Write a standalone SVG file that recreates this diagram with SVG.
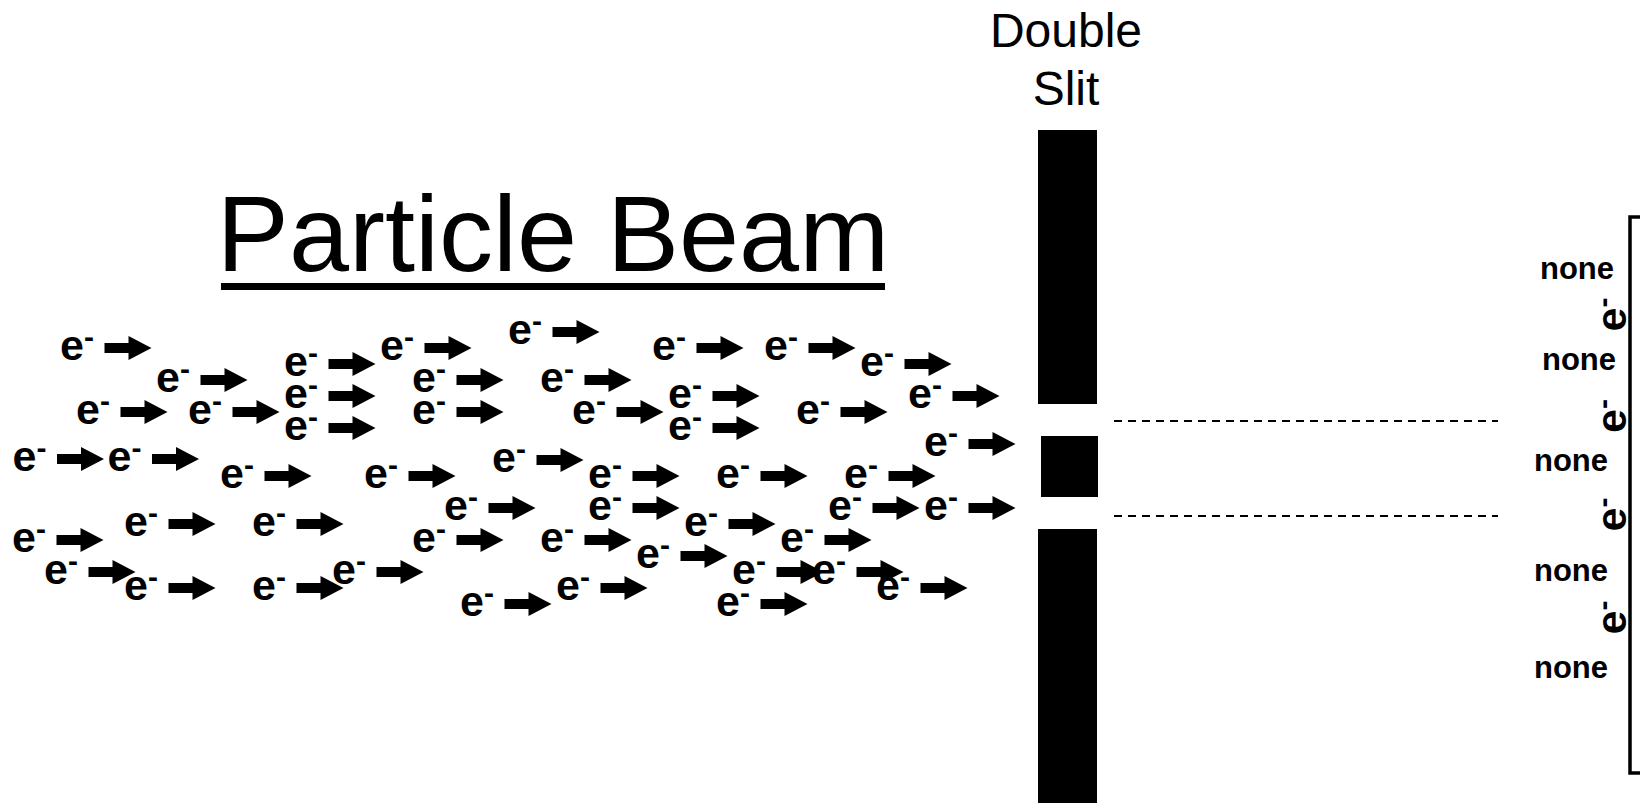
<svg xmlns="http://www.w3.org/2000/svg" xmlns:xlink="http://www.w3.org/1999/xlink" width="1640" height="803" viewBox="0 0 1640 803">
<style>
.e{font-family:"Liberation Sans",Arial,sans-serif;font-weight:bold;font-size:43px;fill:#000}
.sup{font-size:30px}
.none{font-family:"Liberation Sans",Arial,sans-serif;font-weight:bold;font-size:31px;fill:#000}
.lbl{font-family:"Liberation Sans",Arial,sans-serif;font-size:48px;fill:#000}
.title{font-family:"Liberation Sans",Arial,sans-serif;font-size:108px;fill:#000}
.dash{stroke:#000;stroke-width:2;stroke-dasharray:8 6;fill:none}
</style>
<defs>
<path id="arw" d="M43,-17 H67 V-24 L90,-12 L67,0 V-7 H43 Z" fill="#000"/>
</defs>
<rect width="1640" height="803" fill="#fff"/>

<g id="title">
<text class="title" x="553" y="271" text-anchor="middle">Particle Beam</text>
<rect x="221" y="283" width="664" height="7" fill="#000"/>
</g>

<g id="slit-label">
<text class="lbl" x="1066" y="47" text-anchor="middle">Double</text>
<text class="lbl" x="1066" y="104.5" text-anchor="middle">Slit</text>
</g>

<g id="double-slit">
<rect x="1038" y="130" width="59" height="274" fill="#000"/>
<rect x="1041" y="436" width="57" height="61" fill="#000"/>
<rect x="1038" y="529" width="59" height="274" fill="#000"/>
</g>

<g id="connectors">
<line class="dash" x1="1114" y1="421" x2="1498" y2="421"/>
<line class="dash" x1="1114" y1="516" x2="1498" y2="516"/>
</g>

<g id="screen">
<rect x="1630" y="217" width="40" height="556" fill="none" stroke="#000" stroke-width="3.5"/>
<text class="none" x="1540" y="279">none</text>
<text class="none" x="1542" y="370">none</text>
<text class="none" x="1534" y="471">none</text>
<text class="none" x="1534" y="581">none</text>
<text class="none" x="1534" y="678">none</text>
<g id="hit1" transform="translate(1626,330) rotate(-90)"><text class="e" x="-1.5" y="0">e<tspan class="sup" dy="-13">-</tspan></text></g>
<g id="hit2" transform="translate(1626,431.5) rotate(-90)"><text class="e" x="-1.5" y="0">e<tspan class="sup" dy="-13">-</tspan></text></g>
<g id="hit3" transform="translate(1626,530) rotate(-90)"><text class="e" x="-1.5" y="0">e<tspan class="sup" dy="-13">-</tspan></text></g>
<g id="hit4" transform="translate(1626,633) rotate(-90)"><text class="e" x="-1.5" y="0">e<tspan class="sup" dy="-13">-</tspan></text></g>
</g>

<g id="beam">
<g id="p01" transform="translate(61.5,360)"><text class="e" x="-1.5">e<tspan class="sup" dy="-13">-</tspan></text><use xlink:href="#arw"/></g>
<g id="p02" transform="translate(157.5,392)"><text class="e" x="-1.5">e<tspan class="sup" dy="-13">-</tspan></text><use xlink:href="#arw"/></g>
<g id="p03" transform="translate(77.5,424)"><text class="e" x="-1.5">e<tspan class="sup" dy="-13">-</tspan></text><use xlink:href="#arw"/></g>
<g id="p04" transform="translate(189.5,424)"><text class="e" x="-1.5">e<tspan class="sup" dy="-13">-</tspan></text><use xlink:href="#arw"/></g>
<g id="p05" transform="translate(285.5,376)"><text class="e" x="-1.5">e<tspan class="sup" dy="-13">-</tspan></text><use xlink:href="#arw"/></g>
<g id="p06" transform="translate(285.5,408)"><text class="e" x="-1.5">e<tspan class="sup" dy="-13">-</tspan></text><use xlink:href="#arw"/></g>
<g id="p07" transform="translate(285.5,440)"><text class="e" x="-1.5">e<tspan class="sup" dy="-13">-</tspan></text><use xlink:href="#arw"/></g>
<g id="p08" transform="translate(381.5,360)"><text class="e" x="-1.5">e<tspan class="sup" dy="-13">-</tspan></text><use xlink:href="#arw"/></g>
<g id="p09" transform="translate(413.5,392)"><text class="e" x="-1.5">e<tspan class="sup" dy="-13">-</tspan></text><use xlink:href="#arw"/></g>
<g id="p10" transform="translate(413.5,424)"><text class="e" x="-1.5">e<tspan class="sup" dy="-13">-</tspan></text><use xlink:href="#arw"/></g>
<g id="p11" transform="translate(14,471)"><text class="e" x="-1.5">e<tspan class="sup" dy="-13">-</tspan></text><use xlink:href="#arw"/></g>
<g id="p12" transform="translate(109,471)"><text class="e" x="-1.5">e<tspan class="sup" dy="-13">-</tspan></text><use xlink:href="#arw"/></g>
<g id="p13" transform="translate(221.5,488)"><text class="e" x="-1.5">e<tspan class="sup" dy="-13">-</tspan></text><use xlink:href="#arw"/></g>
<g id="p14" transform="translate(365.5,488)"><text class="e" x="-1.5">e<tspan class="sup" dy="-13">-</tspan></text><use xlink:href="#arw"/></g>
<g id="p15" transform="translate(445.5,520)"><text class="e" x="-1.5">e<tspan class="sup" dy="-13">-</tspan></text><use xlink:href="#arw"/></g>
<g id="p16" transform="translate(13.5,552)"><text class="e" x="-1.5">e<tspan class="sup" dy="-13">-</tspan></text><use xlink:href="#arw"/></g>
<g id="p17" transform="translate(125.5,536)"><text class="e" x="-1.5">e<tspan class="sup" dy="-13">-</tspan></text><use xlink:href="#arw"/></g>
<g id="p18" transform="translate(253.5,536)"><text class="e" x="-1.5">e<tspan class="sup" dy="-13">-</tspan></text><use xlink:href="#arw"/></g>
<g id="p19" transform="translate(413.5,552)"><text class="e" x="-1.5">e<tspan class="sup" dy="-13">-</tspan></text><use xlink:href="#arw"/></g>
<g id="p20" transform="translate(45.5,584)"><text class="e" x="-1.5">e<tspan class="sup" dy="-13">-</tspan></text><use xlink:href="#arw"/></g>
<g id="p21" transform="translate(125.5,600)"><text class="e" x="-1.5">e<tspan class="sup" dy="-13">-</tspan></text><use xlink:href="#arw"/></g>
<g id="p22" transform="translate(253.5,600)"><text class="e" x="-1.5">e<tspan class="sup" dy="-13">-</tspan></text><use xlink:href="#arw"/></g>
<g id="p23" transform="translate(333.5,584)"><text class="e" x="-1.5">e<tspan class="sup" dy="-13">-</tspan></text><use xlink:href="#arw"/></g>
<g id="p24" transform="translate(461.5,616)"><text class="e" x="-1.5">e<tspan class="sup" dy="-13">-</tspan></text><use xlink:href="#arw"/></g>
<g id="p25" transform="translate(509.5,344)"><text class="e" x="-1.5">e<tspan class="sup" dy="-13">-</tspan></text><use xlink:href="#arw"/></g>
<g id="p26" transform="translate(653.5,360)"><text class="e" x="-1.5">e<tspan class="sup" dy="-13">-</tspan></text><use xlink:href="#arw"/></g>
<g id="p27" transform="translate(765.5,360)"><text class="e" x="-1.5">e<tspan class="sup" dy="-13">-</tspan></text><use xlink:href="#arw"/></g>
<g id="p28" transform="translate(861.5,376)"><text class="e" x="-1.5">e<tspan class="sup" dy="-13">-</tspan></text><use xlink:href="#arw"/></g>
<g id="p29" transform="translate(541.5,392)"><text class="e" x="-1.5">e<tspan class="sup" dy="-13">-</tspan></text><use xlink:href="#arw"/></g>
<g id="p30" transform="translate(669.5,408)"><text class="e" x="-1.5">e<tspan class="sup" dy="-13">-</tspan></text><use xlink:href="#arw"/></g>
<g id="p31" transform="translate(909.5,408)"><text class="e" x="-1.5">e<tspan class="sup" dy="-13">-</tspan></text><use xlink:href="#arw"/></g>
<g id="p32" transform="translate(573.5,424)"><text class="e" x="-1.5">e<tspan class="sup" dy="-13">-</tspan></text><use xlink:href="#arw"/></g>
<g id="p33" transform="translate(669.5,440)"><text class="e" x="-1.5">e<tspan class="sup" dy="-13">-</tspan></text><use xlink:href="#arw"/></g>
<g id="p34" transform="translate(797.5,424)"><text class="e" x="-1.5">e<tspan class="sup" dy="-13">-</tspan></text><use xlink:href="#arw"/></g>
<g id="p35" transform="translate(925.5,456)"><text class="e" x="-1.5">e<tspan class="sup" dy="-13">-</tspan></text><use xlink:href="#arw"/></g>
<g id="p36" transform="translate(493.5,472)"><text class="e" x="-1.5">e<tspan class="sup" dy="-13">-</tspan></text><use xlink:href="#arw"/></g>
<g id="p37" transform="translate(589.5,488)"><text class="e" x="-1.5">e<tspan class="sup" dy="-13">-</tspan></text><use xlink:href="#arw"/></g>
<g id="p38" transform="translate(717.5,488)"><text class="e" x="-1.5">e<tspan class="sup" dy="-13">-</tspan></text><use xlink:href="#arw"/></g>
<g id="p39" transform="translate(845.5,488)"><text class="e" x="-1.5">e<tspan class="sup" dy="-13">-</tspan></text><use xlink:href="#arw"/></g>
<g id="p40" transform="translate(589.5,520)"><text class="e" x="-1.5">e<tspan class="sup" dy="-13">-</tspan></text><use xlink:href="#arw"/></g>
<g id="p41" transform="translate(829.5,520)"><text class="e" x="-1.5">e<tspan class="sup" dy="-13">-</tspan></text><use xlink:href="#arw"/></g>
<g id="p42" transform="translate(925.5,520)"><text class="e" x="-1.5">e<tspan class="sup" dy="-13">-</tspan></text><use xlink:href="#arw"/></g>
<g id="p43" transform="translate(685.5,536)"><text class="e" x="-1.5">e<tspan class="sup" dy="-13">-</tspan></text><use xlink:href="#arw"/></g>
<g id="p44" transform="translate(541.5,552)"><text class="e" x="-1.5">e<tspan class="sup" dy="-13">-</tspan></text><use xlink:href="#arw"/></g>
<g id="p45" transform="translate(781.5,552)"><text class="e" x="-1.5">e<tspan class="sup" dy="-13">-</tspan></text><use xlink:href="#arw"/></g>
<g id="p46" transform="translate(637.5,568)"><text class="e" x="-1.5">e<tspan class="sup" dy="-13">-</tspan></text><use xlink:href="#arw"/></g>
<g id="p47" transform="translate(733.5,584)"><text class="e" x="-1.5">e<tspan class="sup" dy="-13">-</tspan></text><use xlink:href="#arw"/></g>
<g id="p48" transform="translate(813.5,584)"><text class="e" x="-1.5">e<tspan class="sup" dy="-13">-</tspan></text><use xlink:href="#arw"/></g>
<g id="p49" transform="translate(877.5,600)"><text class="e" x="-1.5">e<tspan class="sup" dy="-13">-</tspan></text><use xlink:href="#arw"/></g>
<g id="p50" transform="translate(557.5,600)"><text class="e" x="-1.5">e<tspan class="sup" dy="-13">-</tspan></text><use xlink:href="#arw"/></g>
<g id="p51" transform="translate(717.5,616)"><text class="e" x="-1.5">e<tspan class="sup" dy="-13">-</tspan></text><use xlink:href="#arw"/></g>
</g>
</svg>
